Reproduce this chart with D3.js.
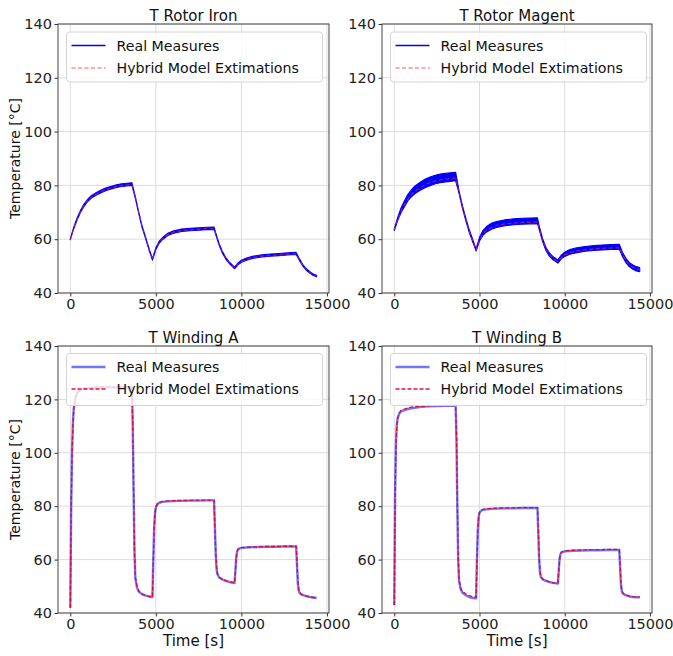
<!DOCTYPE html>
<html><head><meta charset="utf-8">
<script src="https://cdn.jsdelivr.net/npm/d3@7"></script>
<style>html,body{margin:0;padding:0;background:#fff}svg{display:block}</style>
</head><body>
<script>
// ---------- DATA ----------
const panelTitles = ["T Rotor Iron", "T Rotor Magent", "T Winding A", "T Winding B"];
const legendLabels = ["Real Measures", "Hybrid Model Extimations"];
const xTicks = [0, 5000, 10000, 15000];
const yTicks = [40, 60, 80, 100, 120, 140];

const rotorTimes = [0, 200, 400, 600, 800, 1000, 1200, 1500, 1800, 2100, 2400, 2700, 3000, 3300, 3600,
  3800, 4000, 4200, 4400, 4600, 4800, 5000, 5200, 5400, 5700, 6000, 6500, 7000, 7500, 8000, 8400,
  8500, 8700, 8900, 9100, 9300, 9600, 9800, 10000, 10300, 10700, 11200, 11700, 12200, 12700, 13200,
  13400, 13600, 13800, 14000, 14200, 14400];

const ironReal = [60, 64.2, 67.6, 70.4, 72.6, 74.3, 75.6, 76.8, 77.8, 78.6, 79.2, 79.7, 80.1, 80.3, 80.5,
  75.5, 69.8, 64.5, 60.5, 56.3, 52.5, 56.5, 58.9, 60.3, 61.8, 62.6, 63.3, 63.6, 63.8, 64.0, 64.1,
  62.0, 58.0, 55.0, 52.8, 51.2, 49.3, 50.8, 51.8, 52.6, 53.3, 53.8, 54.1, 54.3, 54.5, 54.7,
  52.3, 50.2, 48.7, 47.6, 46.8, 46.3];
const ironSpread = [0.2, 0.3, 0.35, 0.4, 0.45, 0.45, 0.5, 0.5, 0.5, 0.5, 0.5, 0.5, 0.5, 0.5, 0.5,
  0.3, 0.3, 0.3, 0.3, 0.3, 0.3, 0.35, 0.4, 0.4, 0.45, 0.45, 0.45, 0.45, 0.45, 0.45, 0.45,
  0.3, 0.3, 0.3, 0.3, 0.3, 0.3, 0.35, 0.4, 0.4, 0.4, 0.4, 0.4, 0.4, 0.4, 0.4,
  0.3, 0.3, 0.3, 0.3, 0.3, 0.3];
const ironModel = [60, 64.0, 67.5, 70.3, 72.5, 74.2, 75.5, 76.7, 77.7, 78.5, 79.1, 79.6, 80.0, 80.2, 80.4,
  75.6, 69.9, 64.6, 60.5, 56.3, 52.6, 56.4, 58.8, 60.2, 61.7, 62.5, 63.2, 63.5, 63.7, 63.9, 64.0,
  62.1, 58.1, 55.0, 52.8, 51.2, 49.4, 50.7, 51.7, 52.5, 53.2, 53.7, 54.0, 54.2, 54.4, 54.6,
  52.4, 50.2, 48.7, 47.6, 46.8, 46.3];

const magnetReal = [63.5, 67.5, 70.8, 73.2, 75.5, 77.0, 78.3, 79.6, 80.7, 81.5, 82.2, 82.6, 82.9, 83.1, 83.3,
  77.5, 72.0, 67.3, 63.0, 59.5, 56.0, 60.0, 62.3, 63.6, 64.8, 65.5, 66.1, 66.5, 66.7, 66.8, 66.9,
  64.3, 59.7, 56.3, 54.3, 53.0, 51.7, 53.4, 54.4, 55.3, 55.9, 56.4, 56.7, 56.9, 57.1, 57.2,
  54.2, 52.0, 50.5, 49.6, 49.0, 48.7];
const magnetSpread = [0.3, 0.6, 0.9, 1.1, 1.2, 1.3, 1.4, 1.5, 1.6, 1.6, 1.6, 1.6, 1.6, 1.6, 1.6,
  0.5, 0.5, 0.5, 0.5, 0.5, 0.4, 0.7, 0.9, 1.0, 1.1, 1.1, 1.1, 1.1, 1.1, 1.1, 1.1,
  0.6, 0.6, 0.6, 0.6, 0.6, 0.6, 0.7, 0.8, 0.9, 0.9, 0.9, 0.9, 0.9, 0.9, 0.9,
  0.8, 0.8, 0.8, 0.8, 0.8, 0.8];
const magnetModel = [63.3, 67.2, 70.4, 72.8, 75.0, 76.5, 77.8, 79.1, 80.2, 81.0, 81.6, 82.0, 82.3, 82.5, 82.7,
  77.2, 71.8, 67.1, 62.9, 59.4, 56.0, 59.7, 62.0, 63.3, 64.4, 65.1, 65.7, 66.0, 66.2, 66.3, 66.4,
  64.1, 59.6, 56.3, 54.3, 53.0, 51.8, 53.2, 54.2, 55.0, 55.6, 56.1, 56.4, 56.6, 56.7, 56.8,
  54.1, 52.0, 50.5, 49.6, 49.0, 48.6];

const windingTimes = [0, 50, 100, 150, 200, 300, 400, 600, 800, 1000, 1500, 2000, 2500, 3000, 3500, 3600,
  3650, 3700, 3750, 3800, 3900, 4000, 4200, 4400, 4600, 4800, 4850, 4900, 4950, 5000, 5100, 5200, 5400,
  5700, 6000, 6500, 7000, 7500, 8000, 8400, 8450, 8500, 8550, 8600, 8700, 8900, 9100, 9300, 9600,
  9650, 9700, 9750, 9800, 9900, 10000, 10500, 11000, 11500, 12000, 12500, 13200, 13250, 13300, 13350,
  13400, 13500, 13600, 13800, 14000, 14200, 14400];

const windAReal = [42, 80, 100, 111, 116.5, 120.5, 122.5, 123.5, 124.0, 124.2, 124.4, 124.5, 124.5, 124.6, 124.6, 124.5,
  110, 85, 63, 53, 49.5, 48.0, 47.0, 46.5, 46.2, 46.0, 60, 72, 77.5, 79.5, 80.8, 81.3, 81.6,
  81.8, 81.9, 82.0, 82.1, 82.1, 82.2, 82.2, 72, 62, 56.5, 54.5, 53.3, 52.5, 52.0, 51.6, 51.2,
  56, 61, 63, 63.8, 64.2, 64.4, 64.6, 64.7, 64.8, 64.8, 64.9, 64.9, 58, 51, 48.5,
  47.5, 47.0, 46.7, 46.3, 46.0, 45.8, 45.6];
const windAModel = [42, 79, 99.5, 110.5, 116.5, 120.6, 122.6, 123.7, 124.2, 124.4, 124.6, 124.7, 124.7, 124.7, 124.7, 124.6,
  111, 86, 64, 53.5, 49.8, 48.2, 47.1, 46.6, 46.2, 46.0, 59, 71, 77.5, 79.8, 81.0, 81.5, 81.8,
  82.0, 82.1, 82.2, 82.2, 82.3, 82.3, 82.3, 73, 63, 57, 54.8, 53.5, 52.6, 52.1, 51.7, 51.3,
  55.5, 60.5, 63, 63.9, 64.3, 64.5, 64.7, 64.8, 64.9, 64.9, 65.0, 65.0, 59, 51.5, 48.8,
  47.7, 47.1, 46.7, 46.3, 46.0, 45.8, 45.6];

const windBReal = [43, 85, 104, 110.5, 113, 114.8, 115.5, 116.0, 116.4, 116.7, 117.1, 117.4, 117.5, 117.6, 117.6, 117.6,
  105, 80, 60, 52, 48.8, 47.6, 46.6, 46.0, 45.6, 45.5, 60, 71, 76, 77.5, 78.3, 78.6, 78.8,
  79.0, 79.1, 79.2, 79.2, 79.3, 79.3, 79.3, 70, 60, 55, 53.5, 52.6, 52.0, 51.6, 51.3, 51.0,
  56, 60.5, 62, 62.6, 62.9, 63.1, 63.3, 63.4, 63.5, 63.5, 63.6, 63.6, 57, 50.5, 48.2,
  47.4, 46.9, 46.6, 46.2, 46.0, 45.9, 45.9];
const windBModel = [43, 84, 103.5, 110.5, 113.2, 115.0, 115.8, 116.4, 116.8, 117.1, 117.4, 117.6, 117.7, 117.7, 117.7, 117.6,
  106, 81, 61, 52.5, 49.3, 48.1, 47.1, 46.5, 46.1, 45.9, 59.5, 70.5, 76, 77.7, 78.5, 78.8, 79.0,
  79.2, 79.3, 79.4, 79.4, 79.5, 79.5, 79.5, 71, 61, 55.5, 53.8, 52.8, 52.1, 51.7, 51.4, 51.1,
  55.5, 60, 62, 62.8, 63.1, 63.3, 63.5, 63.6, 63.7, 63.7, 63.8, 63.8, 58, 51, 48.5,
  47.6, 47.0, 46.7, 46.3, 46.1, 46.0, 46.0];

// ---------- LAYOUT ----------
const W = 673, H = 656;
const FONT = "DejaVu Sans, Liberation Sans, sans-serif";
const panels = [
  {title: panelTitles[0], t: rotorTimes, real: ironReal, spread: ironSpread, model: ironModel,
   box: {l: 58, t: 24, r: 329, b: 293}, kind: "rotor", ylab: true, xlab: false},
  {title: panelTitles[1], t: rotorTimes, real: magnetReal, spread: magnetSpread, model: magnetModel,
   box: {l: 382, t: 24, r: 652, b: 293}, kind: "rotor", ylab: false, xlab: false},
  {title: panelTitles[2], t: windingTimes, real: windAReal, spread: null, model: windAModel,
   box: {l: 58, t: 346, r: 329, b: 613}, kind: "winding", ylab: true, xlab: true},
  {title: panelTitles[3], t: windingTimes, real: windBReal, spread: null, model: windBModel,
   box: {l: 382, t: 346, r: 652, b: 613}, kind: "winding", ylab: false, xlab: true}
];

const styles = {
  rotor:   {realColor: "#0000ff", realW: 1.1, legW: 1.6, realOp: 1, modelColor: "#ff3030", modelW: 1.3, modelOp: 0.55, dash: "4,2.5"},
  winding: {realColor: "#0000ff", realW: 2.4, legW: 2.4, realOp: 0.55, modelColor: "#e8002a", modelW: 1.3, modelOp: 0.95, dash: "4,2"}
};

const svg = d3.select("body").append("svg").attr("width", W).attr("height", H)
  .style("font-family", FONT);

panels.forEach((p, i) => {
  const b = p.box;
  const st = styles[p.kind];
  const x = d3.scaleLinear().domain([-720, 15120]).range([b.l, b.r]);
  const y = d3.scaleLinear().domain([40, 140]).range([b.b, b.t]);
  const g = svg.append("g");
  const clipId = "clip" + i;
  g.append("clipPath").attr("id", clipId).append("rect")
    .attr("x", b.l).attr("y", b.t).attr("width", b.r - b.l).attr("height", b.b - b.t);

  // grid
  g.append("g").selectAll("line").data(xTicks).join("line")
    .attr("x1", d => x(d)).attr("x2", d => x(d)).attr("y1", b.t).attr("y2", b.b)
    .attr("stroke", "#dcdcdc").attr("stroke-width", 1);
  g.append("g").selectAll("line").data(yTicks).join("line")
    .attr("y1", d => y(d)).attr("y2", d => y(d)).attr("x1", b.l).attr("x2", b.r)
    .attr("stroke", "#dcdcdc").attr("stroke-width", 1);

  const data = p.t.map((t, k) => ({t, r: p.real[k], s: p.spread ? p.spread[k] : 0, m: p.model[k]}));
  const plot = g.append("g").attr("clip-path", `url(#${clipId})`);

  if (p.spread) {
    plot.append("path").datum(data)
      .attr("d", d3.area().x(d => x(d.t)).y0(d => y(d.r - d.s)).y1(d => y(d.r + d.s)))
      .attr("fill", st.realColor).attr("stroke", st.realColor).attr("stroke-width", st.realW)
      .attr("stroke-linejoin", "round");
  } else {
    plot.append("path").datum(data)
      .attr("d", d3.line().x(d => x(d.t)).y(d => y(d.r)))
      .attr("fill", "none").attr("stroke", st.realColor).attr("stroke-width", st.realW)
      .attr("stroke-opacity", st.realOp).attr("stroke-linejoin", "round");
  }
  plot.append("path").datum(data)
    .attr("d", d3.line().x(d => x(d.t)).y(d => y(d.m)))
    .attr("fill", "none").attr("stroke", st.modelColor).attr("stroke-width", st.modelW)
    .attr("stroke-opacity", st.modelOp).attr("stroke-dasharray", st.dash);

  // axes
  const ax = g.append("g").attr("transform", `translate(0,${b.b})`)
    .call(d3.axisBottom(x).tickValues(xTicks).tickFormat(d3.format("d")).tickSize(3.5).tickPadding(2.5));
  const ay = g.append("g").attr("transform", `translate(${b.l},0)`)
    .call(d3.axisLeft(y).tickValues(yTicks).tickFormat(d3.format("d")).tickSize(3.5).tickPadding(2.5));
  [ax, ay].forEach(a => {
    a.select(".domain").remove();
    a.selectAll("line").attr("stroke", "#333");
    a.selectAll("text").attr("font-size", 14.5).attr("fill", "#222").style("font-family", FONT);
  });

  // frame
  g.append("rect").attr("x", b.l).attr("y", b.t).attr("width", b.r - b.l).attr("height", b.b - b.t)
    .attr("fill", "none").attr("stroke", "#444").attr("stroke-width", 1);

  // title
  g.append("text").attr("x", (b.l + b.r) / 2).attr("y", b.t - 3.5).attr("text-anchor", "middle")
    .attr("font-size", 15).attr("fill", "#111").text(p.title);

  if (p.ylab) {
    g.append("text").attr("transform", `translate(19.7,${(b.t + b.b) / 2}) rotate(-90)`)
      .attr("text-anchor", "middle").attr("font-size", 14).attr("fill", "#111").text("Temperature [°C]");
  }
  if (p.xlab) {
    g.append("text").attr("x", (b.l + b.r) / 2).attr("y", 646).attr("text-anchor", "middle")
      .attr("font-size", 15).attr("fill", "#111").text("Time [s]");
  }

  // legend
  const lx = b.l + 8.5, ly = b.t + (p.kind === "rotor" ? 8 : 7.5);
  const lh = p.kind === "rotor" ? 50 : 52;
  const row2 = p.kind === "rotor" ? 36 : 35.5;
  const lg = g.append("g").attr("transform", `translate(${lx},${ly})`);
  lg.append("rect").attr("width", 256).attr("height", lh).attr("rx", 3)
    .attr("fill", "#fff").attr("fill-opacity", 0.8).attr("stroke", "#d4d4d4").attr("stroke-width", 1);
  lg.append("line").attr("x1", 5).attr("x2", 39).attr("y1", 13.5).attr("y2", 13.5)
    .attr("stroke", st.realColor).attr("stroke-width", st.legW).attr("stroke-opacity", st.realOp);
  lg.append("line").attr("x1", 5).attr("x2", 39).attr("y1", row2).attr("y2", row2)
    .attr("stroke", st.modelColor).attr("stroke-width", st.modelW).attr("stroke-opacity", st.modelOp)
    .attr("stroke-dasharray", st.dash);
  lg.append("text").attr("x", 50).attr("y", 13.5 + 5).attr("font-size", 14.2).attr("fill", "#111").text(legendLabels[0]);
  lg.append("text").attr("x", 50).attr("y", row2 + 5).attr("font-size", 14.2).attr("fill", "#111").text(legendLabels[1]);
});
</script>
</body></html>
